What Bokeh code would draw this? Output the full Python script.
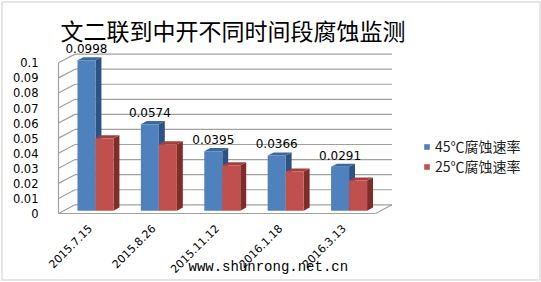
import numpy as np
from bokeh.plotting import figure
from bokeh.models import (ColumnDataSource, Range1d, FixedTicker, Legend, LegendItem,
                          Label, BoxAnnotation)
from bokeh.core.properties import value
from bokeh.embed import file_html
from bokeh.resources import INLINE

# ---------------- data ----------------
dates = ["2015.7.15", "2015.8.26", "2015.11.12", "2016.1.18", "2016.3.13"]
rate45 = [0.0998, 0.0574, 0.0395, 0.0366, 0.0291]
rate25 = [0.048, 0.044, 0.030, 0.026, 0.020]
data_labels = ["0.0998", "0.0574", "0.0395", "0.0366", "0.0291"]
y_ticks = [0, 0.01, 0.02, 0.03, 0.04, 0.05, 0.06, 0.07, 0.08, 0.09, 0.1]
y_tick_labels = ["0", "0.01", "0.02", "0.03", "0.04", "0.05", "0.06", "0.07", "0.08", "0.09", "0.1"]
series_names = ["45℃腐蚀速率", "25℃腐蚀速率"]
title_text = "文二联到中开不同时间段腐蚀监测"
watermark = "www.shunrong.net.cn"

# ---------------- geometry (pixels -> data) ----------------
W, H = 541, 282
PX_X = 63.4        # px per category
PX_Y = 1507.0      # px per unit of rate
ORIG_X, ORIG_Y = 58, 213   # pixel position of front floor corner
YAXIS_PX, XAXIS_PX = 50, 216

x_start = -ORIG_X / PX_X
x_end = (W - ORIG_X) / PX_X
y_start = -(H - ORIG_Y) / PX_Y
y_end = ORIG_Y / PX_Y

DX = 16.5 / PX_X   # wall depth
DY = 8.7 / PX_Y
BW = 18.0 / PX_X   # bar width
BOX, BOY = 0.32 * DX, 0.32 * DY   # bar front offset
BDX, BDY = 0.36 * DX, 0.36 * DY   # bar depth

n = len(dates)
idx = np.arange(n)
centers = idx + 0.5 + BOX

p = figure(width=W, height=H, output_backend="svg", toolbar_location=None,
           title_location=None,
           x_range=Range1d(x_start, x_end), y_range=Range1d(y_start, y_end),
           min_border=0)
p.background_fill_color = "white"
p.border_fill_color = "white"
p.outline_line_color = None
p.xgrid.visible = False
p.ygrid.visible = False

GRID = "#A0A0A0"
yt = np.array(y_ticks)
# back wall gridlines
p.segment(x0=[DX] * len(yt), x1=[n + DX] * len(yt), y0=yt + DY, y1=yt + DY,
          line_color=GRID, line_width=1.2)
# left wall diagonals
p.segment(x0=[0] * len(yt), x1=[DX] * len(yt), y0=yt, y1=yt + DY,
          line_color=GRID, line_width=1.2)
# left wall front edge, floor front edge, floor right edge
p.segment(x0=[0, 0, n], x1=[0, n, n + DX], y0=[0, 0, 0], y1=[y_ticks[-1], 0, DY],
          line_color=GRID, line_width=1.2)


def bar_series(vals, left, front, side, top):
    vals = np.array(vals)
    right = left + BW
    b = np.full(n, BOY)
    t = vals + BOY
    side_xs = [[r, r + BDX, r + BDX, r] for r in right]
    side_ys = [[bb, bb + BDY, tt + BDY, tt] for bb, tt in zip(b, t)]
    top_xs = [[l, r, r + BDX, l + BDX] for l, r in zip(left, right)]
    top_ys = [[tt, tt, tt + BDY, tt + BDY] for tt in t]
    p.patches(side_xs, side_ys, fill_color=side, line_color=None)
    p.patches(top_xs, top_ys, fill_color=top, line_color=None)
    return p.quad(left=left, right=right, bottom=b, top=t, fill_color=front, line_color=None)


r45 = bar_series(rate45, centers - BW, "#4F81BD", "#2D5283", "#3C689E")
r25 = bar_series(rate25, centers, "#C0504D", "#7E2D2B", "#A2403D")

# data labels
src = ColumnDataSource(dict(x=centers - BW / 2, y=rate45, t=data_labels))
p.text(x="x", y="y", text="t", source=src, text_align="center", text_baseline="bottom",
       y_offset=-10, text_font=value("DejaVu Sans"), text_font_size="12px", text_color="#000000")

# axes (fixed inside the full-canvas frame)
p.yaxis.fixed_location = (YAXIS_PX - ORIG_X) / PX_X
p.yaxis.ticker = FixedTicker(ticks=y_ticks)
p.yaxis.major_label_overrides = {t: l for t, l in zip(y_ticks, y_tick_labels)}
p.yaxis.axis_line_color = None
p.yaxis.major_tick_line_color = None
p.yaxis.minor_tick_line_color = None
p.yaxis.major_label_standoff = 6
p.yaxis.major_label_text_font = "DejaVu Sans"
p.yaxis.major_label_text_font_size = "11.5px"
p.yaxis.major_label_text_color = "#000000"

xt = list(idx + 0.5)
p.xaxis.fixed_location = -(XAXIS_PX - ORIG_Y) / PX_Y
p.xaxis.ticker = FixedTicker(ticks=xt)
p.xaxis.major_label_overrides = {t: d for t, d in zip(xt, dates)}
p.xaxis.major_label_orientation = np.pi / 4
p.xaxis.axis_line_color = None
p.xaxis.major_tick_line_color = None
p.xaxis.minor_tick_line_color = None
p.xaxis.major_label_standoff = 4
p.xaxis.major_label_text_font = "DejaVu Sans"
p.xaxis.major_label_text_font_size = "11px"
p.xaxis.major_label_text_color = "#000000"

# title (screen units measured from the bottom-left of the frame = canvas)
p.add_layout(Label(x=60, y=H - 29, x_units="screen", y_units="screen", text=title_text,
                   text_font="Noto Sans CJK SC", text_font_size="23px",
                   text_baseline="middle", text_color="#000000"))

# legend
legend = Legend(items=[LegendItem(label=series_names[0], renderers=[r45]),
                       LegendItem(label=series_names[1], renderers=[r25])],
                location=(423, 106), glyph_width=7, glyph_height=7, label_height=19,
                spacing=0, padding=0, margin=0, label_standoff=5,
                border_line_color=None, background_fill_alpha=0,
                label_text_font="Noto Sans CJK SC", label_text_font_size="14px",
                label_text_color="#222222")
p.add_layout(legend)

# watermark
p.add_layout(Label(x=188, y=H - 266, x_units="screen", y_units="screen", text=watermark,
                   text_font="Liberation Mono", text_font_size="14px",
                   text_baseline="middle", text_color="#000000"))

# outer border
p.add_layout(BoxAnnotation(left=1.5, right=539.5, bottom=H - 279.5, top=H - 1.5,
                           left_units="screen", right_units="screen",
                           bottom_units="screen", top_units="screen",
                           fill_alpha=0, line_color="#8F8F8F", line_width=1.5))

open("out.html", "w").write(file_html(p, INLINE))
